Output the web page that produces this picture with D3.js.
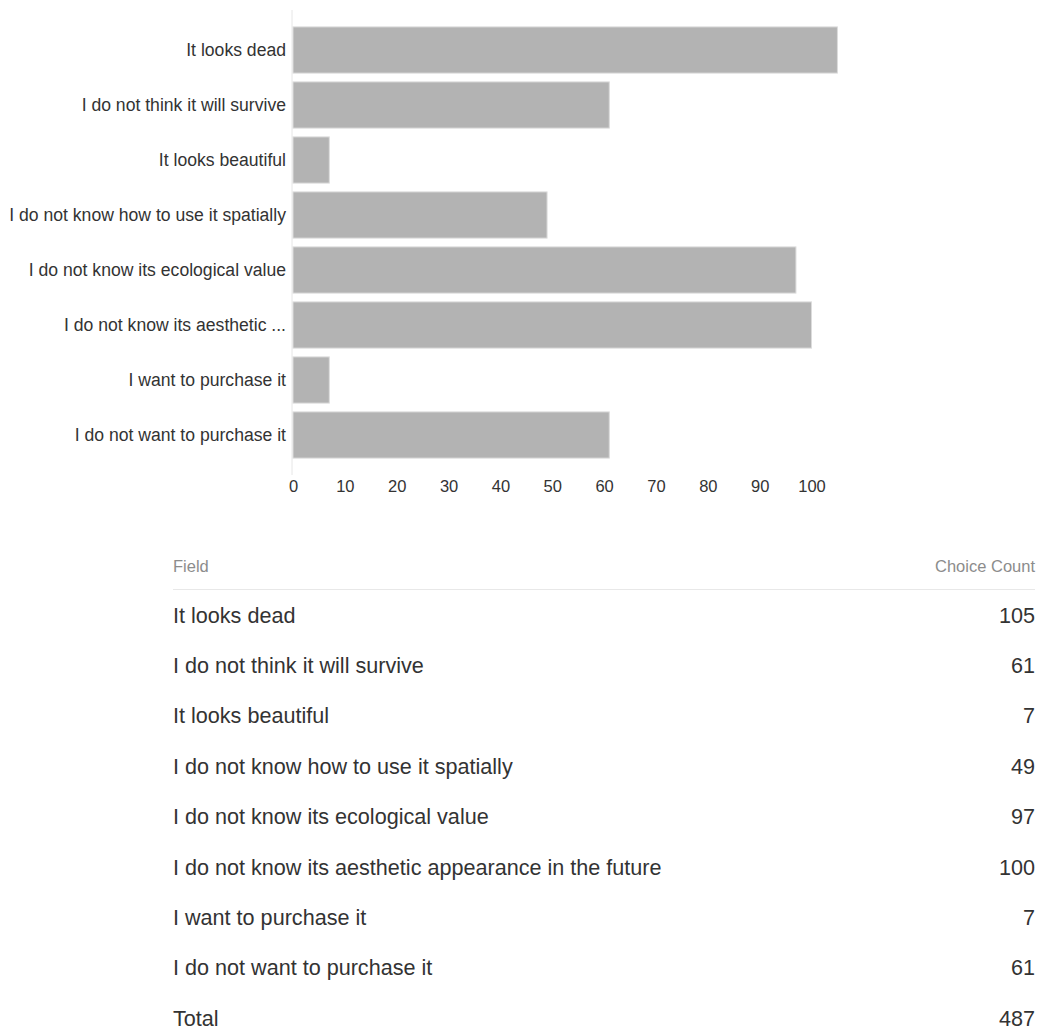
<!DOCTYPE html>
<html>
<head>
<meta charset="utf-8">
<script src="https://cdn.jsdelivr.net/npm/d3@7"></script>
<style>
  html, body { margin: 0; padding: 0; background: #fff; }
  svg { display: block; }
  svg text { font-family: "Liberation Sans", Arial, sans-serif; }
</style>
</head>
<body>
<svg id="chart" width="1040" height="1031"></svg>
<script>
// Survey answers and their choice counts
const fields = [
  "It looks dead",
  "I do not think it will survive",
  "It looks beautiful",
  "I do not know how to use it spatially",
  "I do not know its ecological value",
  "I do not know its aesthetic appearance in the future",
  "I want to purchase it",
  "I do not want to purchase it"
];
const counts = [105, 61, 7, 49, 97, 100, 7, 61];
// Short labels shown next to the bars
const axisLabels = [
  "It looks dead",
  "I do not think it will survive",
  "It looks beautiful",
  "I do not know how to use it spatially",
  "I do not know its ecological value",
  "I do not know its aesthetic ...",
  "I want to purchase it",
  "I do not want to purchase it"
];
const xTicks = [0, 10, 20, 30, 40, 50, 60, 70, 80, 90, 100];

const svg = d3.select("#chart");

// ---- Bar chart ----
const x0 = 293, x100 = 811.5;
const x = d3.scaleLinear().domain([0, 100]).range([x0, x100]);
const y = d3.scaleBand().domain(d3.range(fields.length))
  .range([22.5, 462.5]).paddingInner(0.16).paddingOuter(0.08);

const chart = svg.append("g");

// vertical baseline
chart.append("line")
  .attr("x1", x0 - 1).attr("x2", x0 - 1)
  .attr("y1", 10).attr("y2", 475)
  .attr("stroke", "#e6e6e6").attr("stroke-width", 1);

chart.selectAll("rect.bar").data(counts).join("rect")
  .attr("class", "bar")
  .attr("x", x(0))
  .attr("y", (d, i) => y(i))
  .attr("width", d => x(d) - x(0))
  .attr("height", y.bandwidth())
  .attr("fill", "#b3b3b3")
  .attr("stroke", "#dcdcdc")
  .attr("stroke-width", 1);

// category labels
chart.selectAll("text.cat").data(axisLabels).join("text")
  .attr("class", "cat")
  .attr("x", x0 - 7)
  .attr("y", (d, i) => y(i) + y.bandwidth() / 2)
  .attr("dy", "0.35em")
  .attr("text-anchor", "end")
  .attr("font-size", 17.6)
  .attr("fill", "#333")
  .text(d => d);

// x axis tick labels
const xAxis = d3.axisBottom(x).tickValues(xTicks).tickSize(0).tickPadding(0);
const gx = chart.append("g").attr("transform", "translate(0,480)").call(xAxis);
gx.select(".domain").remove();
gx.selectAll("text")
  .attr("font-size", 16.5)
  .attr("font-family", "'Liberation Sans', Arial, sans-serif")
  .attr("fill", "#333")
  .attr("dy", "0.71em");

// ---- Table ----
const tLeft = 173, tRight = 1035;
const table = svg.append("g");

table.append("text").attr("x", tLeft).attr("y", 572)
  .attr("font-size", 16.5).attr("fill", "#8c8c8c").text("Field");
table.append("text").attr("x", tRight).attr("y", 572)
  .attr("text-anchor", "end")
  .attr("font-size", 16.5).attr("fill", "#8c8c8c").text("Choice Count");
table.append("line")
  .attr("x1", tLeft).attr("x2", tRight)
  .attr("y1", 589.5).attr("y2", 589.5)
  .attr("stroke", "#e8e8e8").attr("stroke-width", 1);

const rows = fields.map((f, i) => ({ label: f, value: counts[i] }));
rows.push({ label: "Total", value: d3.sum(counts) });

const rowY = d3.scaleLinear().domain([0, 1]).range([615, 665.4]);

const rg = table.selectAll("g.row").data(rows).join("g")
  .attr("class", "row")
  .attr("transform", (d, i) => `translate(0,${rowY(i)})`);
rg.append("text").attr("x", tLeft).attr("dy", "0.35em")
  .attr("font-size", 21.6).attr("fill", "#333").text(d => d.label);
rg.append("text").attr("x", tRight).attr("dy", "0.35em")
  .attr("text-anchor", "end")
  .attr("font-size", 21.6).attr("fill", "#333").text(d => d.value);
</script>
</body>
</html>
